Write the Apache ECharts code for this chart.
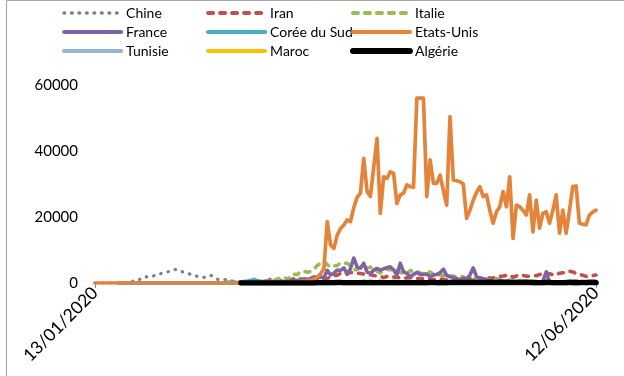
<!DOCTYPE html>
<html lang="fr">

<head>
  <meta charset="UTF-8">
  <title>Nouveaux cas quotidiens</title>
  <script src="https://cdn.jsdelivr.net/npm/echarts@6/dist/echarts.min.js"></script>
  <style>
    html, body { margin: 0; padding: 0; background: #fff; }
    #chart { width: 624px; height: 376px; }
  </style>
</head>

<body>
  <div id="chart"></div>
  <script>
    // nouveaux cas par jour, du 13/01/2020 au 12/06/2020 (152 jours)
    var startDate = Date.UTC(2020, 0, 13)
    var nbDays = 152
    var yTicks = [0, 20000, 40000, 60000]

    // null = pas encore de données pour ce pays
    function lead(n) {
      var a = []
      for (var k = 0; k < n; k++) a.push(null)
      return a
    }

    var chine = [0,0,0,0,0,0,10,80,140,100,260,440,690,770,1500,
      1900,1800,1900,2300,2500,2900,3200,3400,3800,4100,3900,3500,3200,2900,2600,
      2200,2000,1800,1700,2000,2300,1800,1100,900,1000,1100,700,400,450,400,
      430,330,430,570,200,125,120,140,100,45,20,25,20,15,10,
      11,20,16,20,13,21,39,41,46,39,78,47,67,55,54,45,45,31,36,
      35,31,35,37,30,39,32,30,62,26,46,99,108,89,46,63,26,18,30,16,12,11,12,10,6,22,11,3,6,2,
      12,2,1,3,2,1,2,2,4,1,17,3,15,7,4,5,8,6,10,6,3,4,3,11,4,2,5,4,2,2,3,
      16,2,5,4,6,0,6,5,4,6,11,3]

    var iran = lead(37).concat([2,3,13,10,15,18,28,44,106,143,205,
      385,523,835,586,591,1234,1076,743,595,881,958,1075,
      1289,1365,1209,1053,1178,1192,1046,1237,966,1028,1411,1762,2206,2389,2926,3076,2901,3186,3110,
      2987,2875,2715,2560,2483,2274,2089,1997,1634,1972,2089,1837,1657,1617,1574,1512,1606,1499,1374,1343,
      1294,1297,1194,1030,1134,1168,1153,991,1073,1112,
      1006,802,976,1223,1323,1680,1485,1529,1383,1529,1485,1481,1958,2023,2102,2294,2346,1757,2111,2392,
      2311,2080,2053,2183,2180,2560,2819,2979,2819,2516,2438,
      2979,3117,3134,3574,3341,2886,2596,2364,2011,2095,2238,2410])

    var italie = lead(18).concat([2,0,0,0,0,0,0,1,0,0,0,0,0,0,0,0,0,0,0,0,0,0,
      17,42,93,74,93,131,202,233,240,566,
      342,466,587,769,778,1247,1492,1797,977,2313,
      2651,2547,3497,3590,3233,3526,4207,5322,5986,6557,
      5560,4789,5249,5210,6153,5959,5974,5217,4050,4053,
      4782,4668,4585,4805,4316,3599,3039,3836,4204,3951,
      4694,4092,3153,2972,2667,3786,3493,3491,3047,2256,
      2729,3370,2646,3021,2357,2324,1739,2091,2086,1872,
      1965,1900,1389,1221,1075,1444,1401,1327,1083,802,
      744,1402,888,992,789,875,675,451,813,665,
      642,652,669,531,300,397,584,593,516,416,
      355,178,318,321,177,518,270,197,280,283,
      202,379])

    var france = lead(11).concat([3,
      0,0,0,0,0,0,0,0,0,0,0,0,0,0,0,0,0,0,0,0,0,0,0,0,0,0,0,0,0,0,0,0,
      4,20,19,43,
      30,61,21,73,138,190,336,177,286,372,497,595,
      785,838,924,1210,1097,1404,1861,1617,1847,1559,3838,2446,2931,3922,3809,4611,2599,4376,7578,
      4861,4500,6000,3300,2900,3900,4400,3900,4300,4600,4900,4000,2400,6000,3400,2900,1900,2600,3200,2600,
      2700,2700,1900,2400,2600,3100,4200,2300,1900,1700,1400,1000,1400,1200,2400,4600,1900,1500,1300,1000,
      600,450,350,800,650,550,450,300,500,400,350,580,420,320,250,180,600,3400,250,400,
      260,280,350,430,520,610,580,350,280,410,500,540,520])

    var coree = lead(7).concat([1,0,0,0,1,0,1,0,2,0,1,3,0,1,0,1,0,3,3,1,0,1,1,0,0,1,0,0,1,
      15,31,53,100,229,169,231,144,284,505,571,813,1062,600,516,438,518,483,367,248,
      131,242,114,110,107,76,74,84,93,152,87,147,98,64,76,100,104,91,146,105,78,125,101,
      89,86,94,81,47,47,53,39,27,30,32,25,27,27,22,22,18,8,13,9,
      11,8,6,10,10,10,14,9,4,9,6,13,8,3,2,4,12,18,34,35,
      27,26,29,27,19,13,15,13,32,12,20,23,25,16,19,40,79,58,39,27,
      35,38,49,39,39,51,57,38,38,50,45,56,48])

    var etatsUnis = [0,0,0,0,0,0,0,0,1,0,0,1,0,2,0,0,1,0,0,1,
      0,0,1,0,0,0,0,0,0,0,0,0,0,1,0,0,0,0,0,0,0,1,0,3,0,1,3,5,
      8,8,6,24,20,31,68,45,140,116,65,376,
      300,380,500,550,770,900,1100,1800,2800,4400,
      18600,11500,10500,14500,16500,17600,19100,18600,22800,26000,
      27200,37800,27700,26200,35000,43800,21100,32200,31700,33700,
      33200,24100,26700,27200,29700,29200,29000,56000,56000,56000,
      26200,37300,30200,30200,32700,28000,23600,50400,31200,31000,
      30700,30000,19600,22000,25100,27500,29200,26200,26700,22000,
      18100,21600,23100,27700,23100,32200,13500,23600,23100,22000,
      20600,26700,15500,25100,16600,21100,21600,18100,22000,26700,
      15100,22100,15100,22000,29200,29400,18100,17800,17600,20600,
      21500,22100]

    var tunisie = lead(49).concat([1,0,0,0,0,1,4,1,7,2,
      2,2,4,4,5,5,14,15,25,29,
      34,54,14,32,59,34,35,33,28,49,
      23,29,30,25,10,16,20,14,13,27,
      21,19,13,20,11,4,9,14,5,8,
      5,3,3,4,4,0,2,1,2,2,
      0,0,1,0,0,0,2,0,0,0,
      0,0,0,1,0,0,0,0,0,1,
      3,0,3,2,0,0,0,0,0,1,
      0,0,0,2,1,0,0,2,0,1,
      3,6,3])

    var maroc = lead(49).concat([0,1,0,0,0,1,0,0,2,1,
      1,0,1,5,11,10,9,17,9,20,
      34,37,40,55,45,50,45,60,70,58,
      48,65,70,66,77,70,56,60,74,59,
      90,88,82,97,76,65,57,62,58,54,
      80,72,85,64,50,60,70,62,51,48,
      55,60,76,45,52,60,48,42,39,35,
      30,40,45,50,38,41,34,31,29,25,
      20,24,30,28,33,40,36,42,38,30,
      35,45,40,50,42,38,30,44,55,60,
      48,52,60])

    var algerie = lead(44).concat([1,0,0,0,0,0,2,2,5,7,
      0,2,4,0,4,6,5,12,17,10,
      29,21,33,44,45,51,79,60,58,130,
      132,86,82,69,96,103,95,139,94,117,
      104,95,120,95,89,108,116,95,77,64,
      97,90,95,98,93,94,99,120,129,112,
      148,110,103,124,130,145,133,170,158,160,
      190,180,176,180,162,195,141,155,130,150,
      137,127,116,119,115,123,114,122,107,109,
      104,108,115,117,102,99,104,109,105,119,
      113,112,109,118,105,128,115,100])

    var dates = []
    for (var d = 0; d < nbDays; d++) {
      var dt = new Date(startDate + d * 86400000)
      var dd = ('0' + dt.getUTCDate()).slice(-2)
      var mm = ('0' + (dt.getUTCMonth() + 1)).slice(-2)
      dates.push(dd + '/' + mm + '/' + dt.getUTCFullYear())
    }

    var font = 'Lato'
    // couleur, épaisseur, pointillés
    var styles = {
      'Chine': ['#7f7f7f', 3.2, [0.5, 7]],
      'Iran': ['#c0504d', 3.6, [5, 7]],
      'Italie': ['#9bbb59', 3.6, [5, 7]],
      'France': ['#8064a2', 3.6, 'solid'],
      'Corée du Sud': ['#4bacc6', 3.8, 'solid'],
      'Etats-Unis': ['#e3843a', 3.7, 'solid'],
      'Tunisie': ['#95b3d7', 3.8, 'solid'],
      'Maroc': ['#ffc000', 3.8, 'solid'],
      'Algérie': ['#000000', 5.5, 'solid']
    }

    function serie(name, data) {
      var s = styles[name]
      return {
        name: name,
        type: 'line',
        data: data,
        symbol: 'none',
        showSymbol: false,
        connectNulls: false,
        animation: false,
        lineStyle: { color: s[0], width: s[1], type: s[2], cap: 'round', join: 'round' },
        itemStyle: { color: s[0] }
      }
    }

    function legendItem(name) {
      var s = styles[name]
      return {
        name: name,
        itemStyle: { opacity: 0 },
        lineStyle: { color: s[0], width: s[1] + 0.4, type: s[2], cap: 'round' }
      }
    }

    function legendCol(left, names) {
      return {
        orient: 'vertical',
        left: left,
        top: 1,
        itemWidth: 57,
        itemHeight: 14,
        itemGap: 5,
        selectedMode: false,
        itemStyle: { opacity: 0 },
        textStyle: { fontFamily: font, fontSize: 14, color: '#000' },
        data: names.map(legendItem)
      }
    }

    var mCharts = echarts.init(document.getElementById('chart'))
    var option = {
      animation: false,
      backgroundColor: '#fff',
      textStyle: { fontFamily: font },
      graphic: [{
        type: 'rect',
        shape: { x: 6.5, y: 0.5, width: 700, height: 500 },
        style: { fill: 'none', stroke: '#a6a6a6', lineWidth: 1 },
        silent: true
      }],
      legend: [
        legendCol(57, ['Chine', 'France', 'Tunisie']),
        legendCol(201, ['Iran', 'Corée du Sud', 'Maroc']),
        legendCol(345, ['Italie', 'Etats-Unis', 'Algérie'])
      ],
      grid: { left: 95, right: 28, top: 85, bottom: 93 },
      xAxis: {
        type: 'category',
        data: dates,
        boundaryGap: false,
        axisLine: { lineStyle: { color: '#868686', width: 1 } },
        axisTick: {
          show: true,
          length: 5,
          lineStyle: { color: '#868686' },
          interval: function (idx) { return idx === 0 || idx === nbDays - 1 }
        },
        axisLabel: {
          rotate: 45,
          margin: 7,
          fontFamily: font,
          fontSize: 17.5,
          color: '#000',
          showMaxLabel: true,
          interval: function (idx) { return idx === 0 || idx === nbDays - 1 }
        },
        splitLine: { show: false }
      },
      yAxis: {
        type: 'value',
        min: yTicks[0],
        max: yTicks[yTicks.length - 1],
        interval: yTicks[1] - yTicks[0],
        axisLine: { show: false },
        axisTick: { show: false },
        splitLine: { show: false },
        axisLabel: {
          margin: 17,
          fontFamily: font,
          fontSize: 15,
          color: '#000',
          formatter: function (v) { return String(v) }
        }
      },
      series: [
        serie('Chine', chine),
        serie('Iran', iran),
        serie('Italie', italie),
        serie('France', france),
        serie('Corée du Sud', coree),
        serie('Etats-Unis', etatsUnis),
        serie('Tunisie', tunisie),
        serie('Maroc', maroc),
        serie('Algérie', algerie)
      ]
    }
    mCharts.setOption(option)
  </script>
</body>

</html>
